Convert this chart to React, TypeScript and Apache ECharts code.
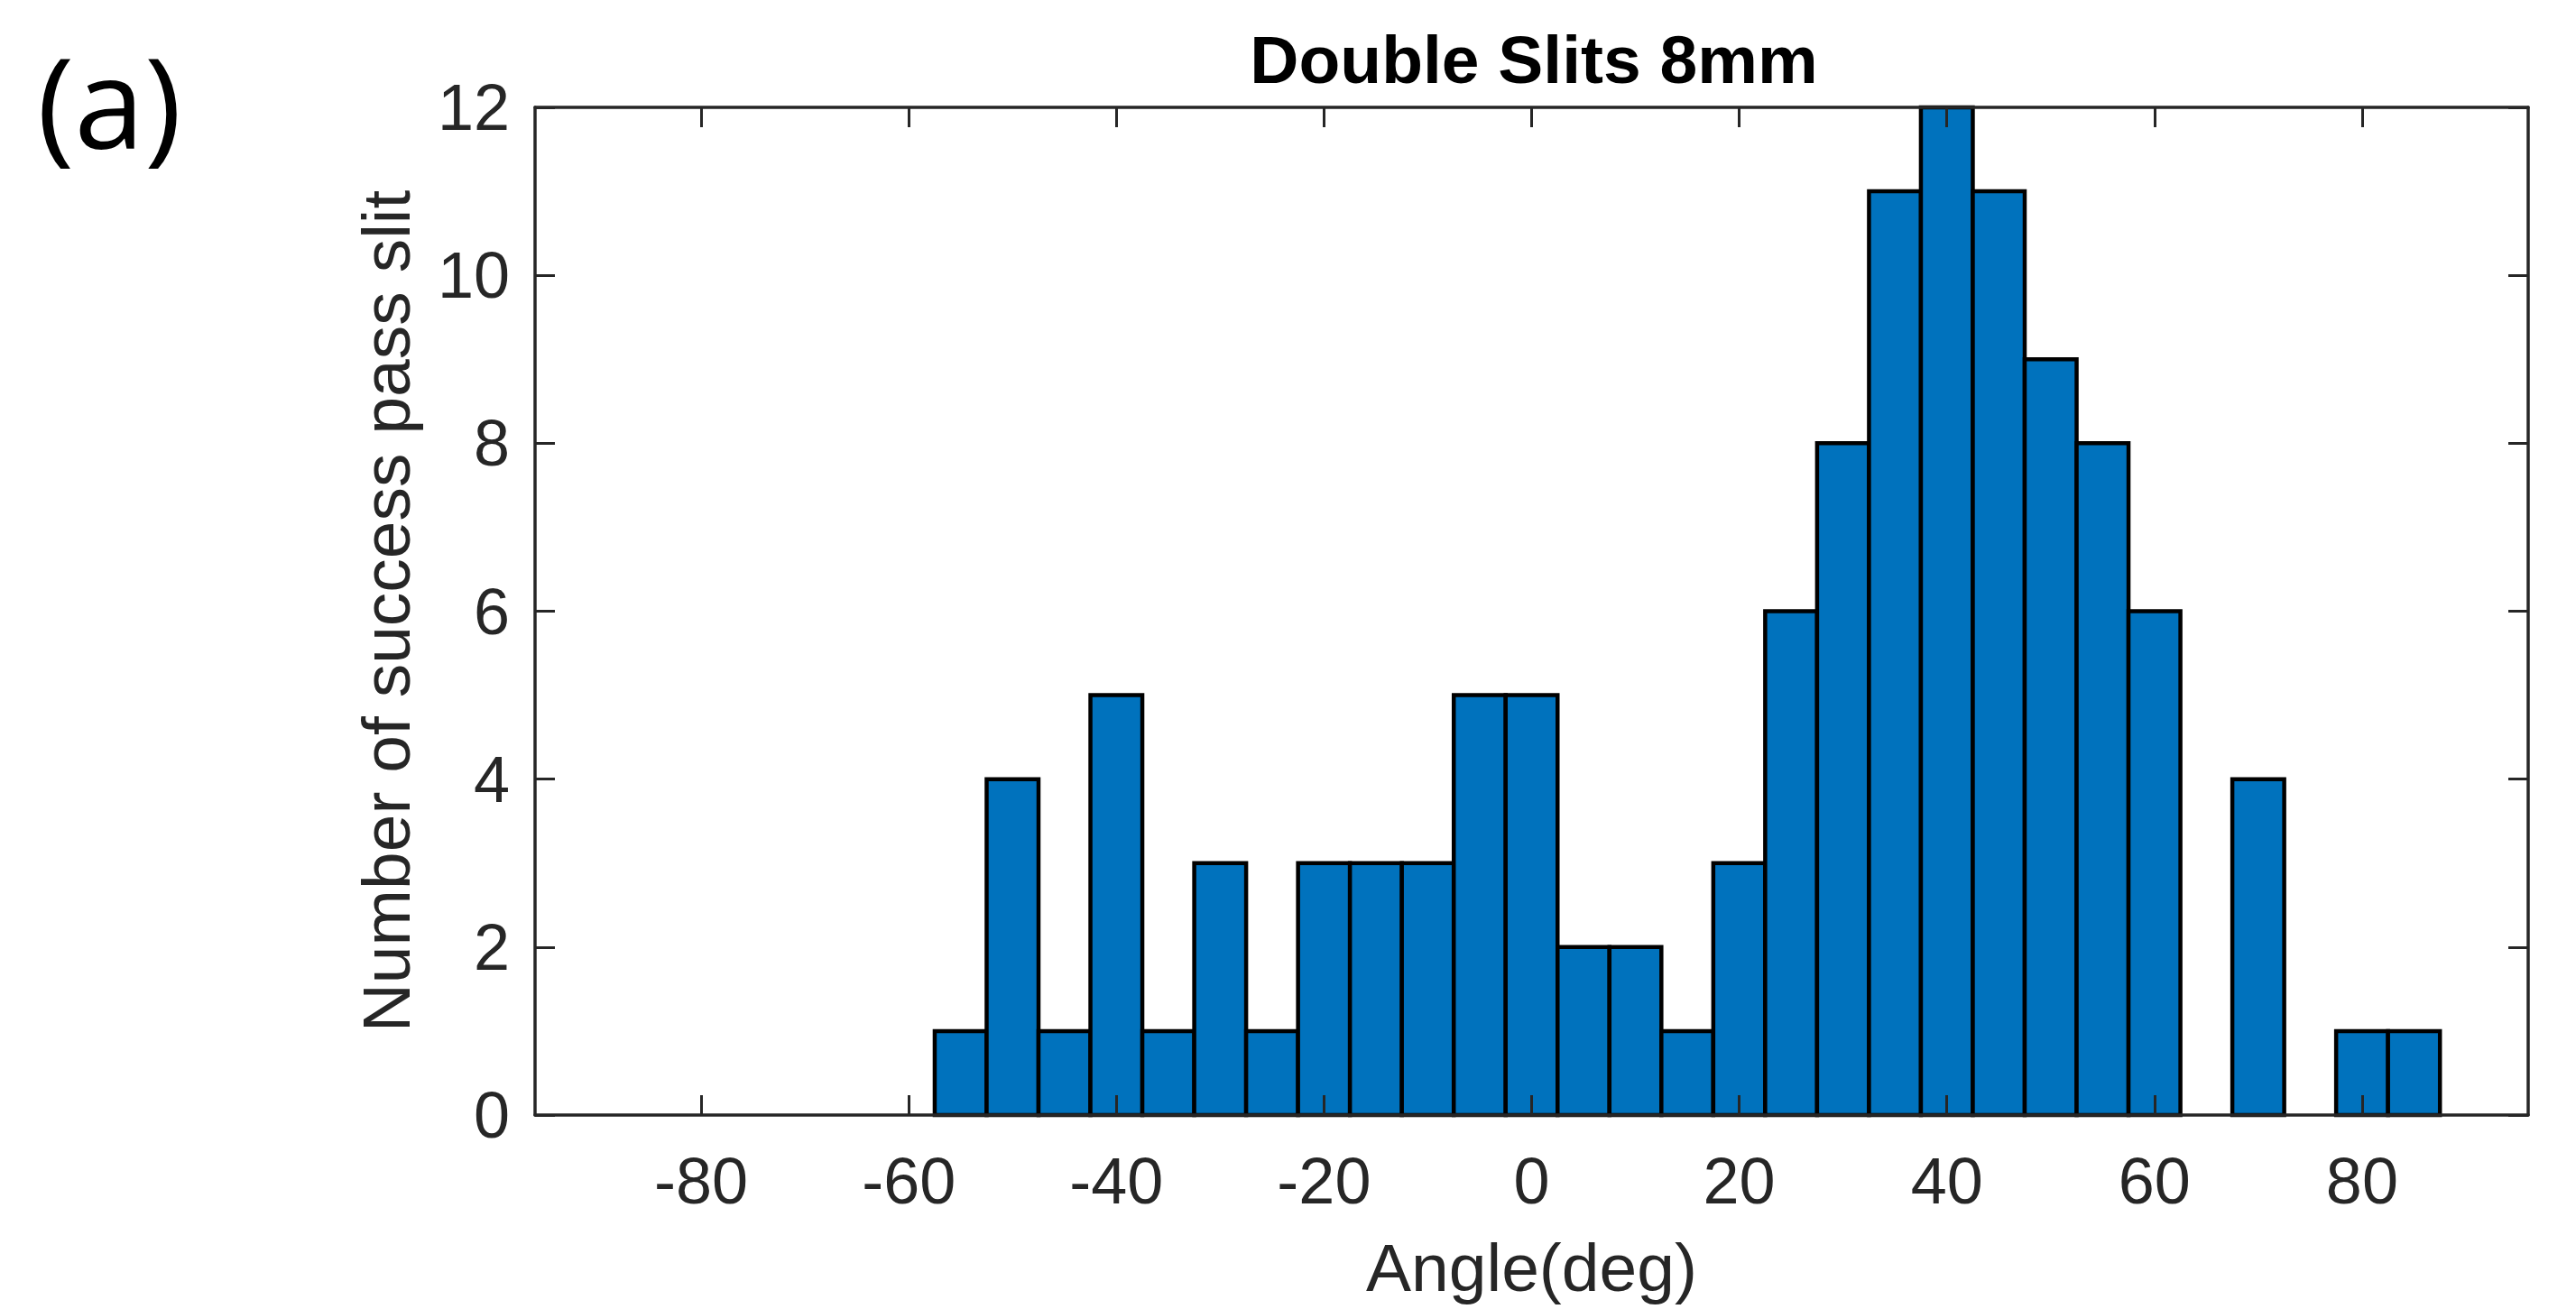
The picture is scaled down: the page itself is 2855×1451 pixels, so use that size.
import React, { useEffect, useRef } from "react";
import * as echarts from "echarts";

const TITLE = "Double Slits 8mm";
const PANEL_LABEL = "(a)";
const X_NAME = "Angle(deg)";
const Y_NAME = "Number of success pass slit";

const BIN_WIDTH = 5;
const binCenters = [
  -55, -50, -45, -40, -35, -30, -25, -20, -15, -10, -5, 0, 5, 10, 15, 20, 25,
  30, 35, 40, 45, 50, 55, 60, 65, 70, 75, 80, 85,
];
const counts = [
  1, 4, 1, 5, 1, 3, 1, 3, 3, 3, 5, 5, 2, 2, 1, 3, 6, 8, 11, 12, 11, 9, 8, 6, 0,
  4, 0, 1, 1,
];
const xTicks = [-80, -60, -40, -20, 0, 20, 40, 60, 80];
const X_MIN = -96;
const X_MAX = 96;
const Y_MIN = 0;
const Y_MAX = 12;
const Y_STEP = 2;

const AXIS_COLOR = "#262626";
const BAR_COLOR = "#0072BD";
const FONT = "'Liberation Sans', Arial, sans-serif";

export default function App() {
  const ref = useRef<HTMLDivElement>(null);

  useEffect(() => {
    if (!ref.current) return;
    const chart = echarts.init(ref.current, null, { renderer: "svg" });
    const data = binCenters.map((c, i) => [c, counts[i]]);

    const axisLine = { show: true, onZero: false, lineStyle: { color: AXIS_COLOR, width: 3.5 } };
    const tick = { show: true, inside: true, length: 22, lineStyle: { color: AXIS_COLOR, width: 3 } };

    chart.setOption({
      animation: false,
      backgroundColor: "#ffffff",
      title: {
        text: TITLE,
        left: 1695,
        top: 23,
        textAlign: "center",
        textStyle: { fontFamily: FONT, fontSize: 75, fontWeight: "bold", color: "#000000" },
      },
      graphic: [
        {
          type: "text",
          left: 41,
          top: 40,
          style: {
            text: PANEL_LABEL,
            font: "140px 'Open Sans', Lato, sans-serif",
            fill: "#000000",
          },
        },
      ],
      grid: { left: 593, right: 53, top: 119, bottom: 215, containLabel: false },
      xAxis: [
        {
          type: "value",
          position: "bottom",
          min: X_MIN,
          max: X_MAX,
          z: 10,
          axisLine,
          axisTick: { ...tick, customValues: xTicks },
          splitLine: { show: false },
          axisLabel: {
            customValues: xTicks,
            margin: 37,
            fontSize: 72,
            fontFamily: FONT,
            color: AXIS_COLOR,
          },
          name: X_NAME,
          nameLocation: "middle",
          nameGap: 131,
          nameTextStyle: { fontSize: 75, fontFamily: FONT, color: AXIS_COLOR },
        },
        {
          type: "value",
          position: "top",
          min: X_MIN,
          max: X_MAX,
          z: 10,
          axisLine,
          axisTick: { ...tick, customValues: xTicks },
          axisLabel: { show: false, customValues: xTicks },
          splitLine: { show: false },
        },
      ],
      yAxis: [
        {
          type: "value",
          position: "left",
          min: Y_MIN,
          max: Y_MAX,
          interval: Y_STEP,
          z: 10,
          axisLine,
          axisTick: tick,
          splitLine: { show: false },
          axisLabel: { margin: 28, fontSize: 72, fontFamily: FONT, color: AXIS_COLOR },
          name: Y_NAME,
          nameLocation: "middle",
          nameGap: 128,
          nameTextStyle: { fontSize: 75, fontFamily: FONT, color: AXIS_COLOR },
        },
        {
          type: "value",
          position: "right",
          min: Y_MIN,
          max: Y_MAX,
          interval: Y_STEP,
          z: 10,
          axisLine,
          axisTick: tick,
          axisLabel: { show: false },
          splitLine: { show: false },
        },
      ],
      series: [
        {
          type: "custom",
          xAxisIndex: 0,
          yAxisIndex: 0,
          data,
          encode: { x: 0, y: 1 },
          renderItem: (params: any, api: any) => {
            const x = api.value(0);
            const y = api.value(1);
            if (!y) return null;
            const p0 = api.coord([x - BIN_WIDTH / 2, y]);
            const p1 = api.coord([x + BIN_WIDTH / 2, 0]);
            return {
              type: "rect",
              shape: { x: p0[0], y: p0[1], width: p1[0] - p0[0], height: p1[1] - p0[1] },
              style: { fill: BAR_COLOR, stroke: "#000000", lineWidth: 4.5 },
            };
          },
        },
      ],
    });

    return () => chart.dispose();
  }, []);

  return (
    <div
      ref={ref}
      style={{ position: "absolute", left: 0, top: 0, width: 2855, height: 1451 }}
    />
  );
}
